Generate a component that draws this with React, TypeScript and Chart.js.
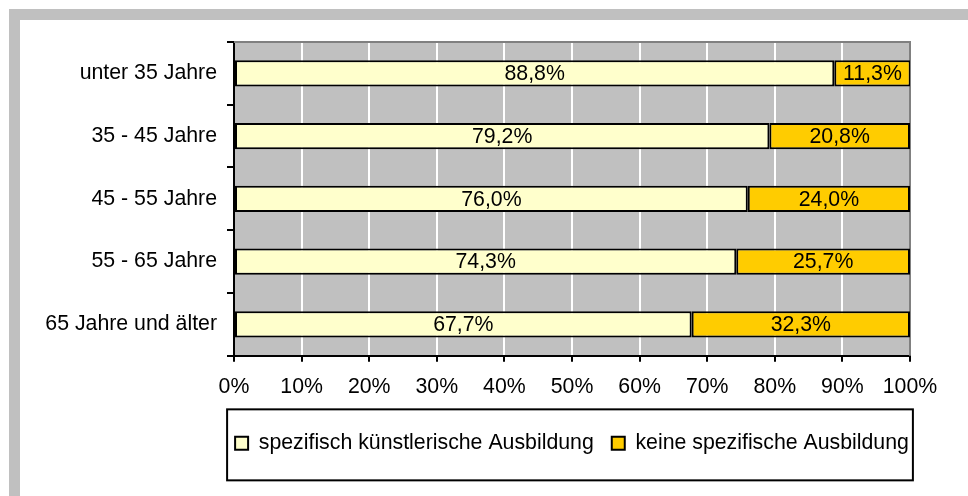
import React, { useEffect, useRef } from "react";
import { Chart, registerables } from "chart.js";

Chart.register(...registerables);

const categories = [
  "unter 35 Jahre",
  "35 - 45 Jahre",
  "45 - 55 Jahre",
  "55 - 65 Jahre",
  "65 Jahre und älter",
];
const spezifisch = [88.8, 79.2, 76.0, 74.3, 67.7];
const keine = [11.3, 20.8, 24.0, 25.7, 32.3];
const seriesNames = ["spezifisch künstlerische Ausbildung", "keine spezifische Ausbildung"];
const xTicks = [0, 10, 20, 30, 40, 50, 60, 70, 80, 90, 100];

const FONT = "'Liberation Sans', Arial, sans-serif";
const FS = 21.3;

const fmt = (v: number) => v.toFixed(1).replace(".", ",") + "%";

const decorPlugin = {
  id: "decor",
  afterInit(chart: any) {
    const lg = chart.legend;
    if (lg && !lg.__patched) {
      const origFit = lg.fit.bind(lg);
      lg.fit = function () {
        const mw = this.maxWidth;
        this.maxWidth = mw + 200;
        origFit();
        this.maxWidth = mw;
        this.width = mw;
      };
      const origDraw = lg.draw.bind(lg);
      lg.draw = function () {
        const l = this.left;
        const r = this.right;
        this.left = l - 100;
        this.right = r + 100;
        origDraw();
        this.left = l;
        this.right = r;
      };
      lg.__patched = true;
    }
  },
  beforeDraw(chart: any) {
    const { ctx, chartArea: a } = chart;
    ctx.save();
    ctx.fillStyle = "#c0c0c0";
    ctx.fillRect(a.left, a.top, a.right - a.left, a.bottom - a.top);
    ctx.restore();
  },
  beforeDatasetsDraw(chart: any) {
    const { ctx, chartArea: a } = chart;
    ctx.save();
    ctx.strokeStyle = "#808080";
    ctx.lineWidth = 2;
    ctx.beginPath();
    ctx.moveTo(a.left, a.top);
    ctx.lineTo(a.right, a.top);
    ctx.lineTo(a.right, a.bottom);
    ctx.stroke();
    ctx.restore();
  },
  afterDatasetsDraw(chart: any) {
    const { ctx } = chart;
    ctx.save();
    ctx.font = `${FS}px ${FONT}`;
    ctx.fillStyle = "#000";
    ctx.textAlign = "center";
    ctx.textBaseline = "middle";
    chart.data.datasets.forEach((ds: any, di: number) => {
      const meta = chart.getDatasetMeta(di);
      meta.data.forEach((el: any, i: number) => {
        const p = el.getProps(["x", "y", "base"], true);
        ctx.fillText(fmt(ds.data[i]), (p.x + p.base) / 2, p.y + 1);
      });
    });
    ctx.restore();
  },
  afterDraw(chart: any) {
    const lg = chart.legend;
    if (!lg || !lg.legendHitBoxes || !lg.legendHitBoxes.length) return;
    const hb = lg.legendHitBoxes;
    const first = hb[0];
    const last = hb[hb.length - 1];
    const left = first.left - 8;
    const right = last.left + last.width + 4;
    const cy = first.top + first.height / 2;
    const { ctx } = chart;
    ctx.save();
    ctx.strokeStyle = "#000";
    ctx.lineWidth = 2;
    ctx.strokeRect(left, cy - 34, right - left, 71);
    ctx.restore();
  },
};

export default function App() {
  const ref = useRef<HTMLCanvasElement>(null);
  useEffect(() => {
    if (!ref.current) return;
    Chart.defaults.font.family = FONT;
    Chart.defaults.font.size = FS;
    Chart.defaults.color = "#000";
    const chart = new Chart(ref.current, {
      type: "bar",
      data: {
        labels: categories,
        datasets: [
          {
            label: seriesNames[0],
            data: spezifisch,
            backgroundColor: "#ffffcc",
            borderColor: "#000",
            borderWidth: 2,
            borderSkipped: false,
            categoryPercentage: 1,
            barPercentage: 0.42,
          },
          {
            label: seriesNames[1],
            data: keine,
            backgroundColor: "#ffcc00",
            borderColor: "#000",
            borderWidth: 2,
            borderSkipped: false,
            categoryPercentage: 1,
            barPercentage: 0.42,
          },
        ],
      },
      options: {
        indexAxis: "y",
        animation: false,
        responsive: false,
        layout: { padding: { top: 22, right: 58, bottom: 32, left: 0 } },
        scales: {
          x: {
            stacked: true,
            min: 0,
            max: 100,
            afterBuildTicks(scale: any) {
              scale.ticks = xTicks.map((v) => ({ value: v }));
            },
            ticks: {
              callback: (v: any) => v + "%",
              padding: 13,
              maxRotation: 0,
              font: { size: FS, family: FONT },
              color: "#000",
            },
            grid: {
              color: "#ffffff",
              lineWidth: 2,
              tickColor: "#000",
              tickLength: 6,
              tickWidth: 2,
            },
            border: { display: true, color: "#000", width: 2 },
            afterFit(scale: any) {
              scale.height = 59;
            },
          },
          y: {
            stacked: true,
            ticks: {
              padding: 10,
              font: { size: FS, family: FONT },
              color: "#000",
            },
            grid: {
              offset: true,
              drawOnChartArea: false,
              drawTicks: true,
              tickLength: 7,
              color: "#000",
              tickColor: "#000",
              lineWidth: 2,
            },
            border: { display: true, color: "#000", width: 2 },
            afterFit(scale: any) {
              scale.width = 214;
              scale.paddingTop = 0;
              scale.paddingBottom = 0;
            },
          },
        },
        plugins: {
          legend: {
            position: "bottom",
            fullSize: false,
            labels: {
              boxWidth: 13,
              boxHeight: 13,
              padding: 18,
              font: { size: FS, family: FONT },
              color: "#000",
              generateLabels: (chart: any) =>
                chart.data.datasets.map((ds: any, i: number) => ({
                  text: ds.label,
                  fillStyle: ds.backgroundColor,
                  strokeStyle: "#000",
                  lineWidth: 2,
                  hidden: false,
                  datasetIndex: i,
                })),
            },
          },
          tooltip: { enabled: false },
        },
      },
      plugins: [decorPlugin],
    } as any);
    return () => chart.destroy();
  }, []);

  return (
    <div
      style={{
        position: "absolute",
        left: 9,
        top: 9,
        width: 948,
        height: 476,
        borderTop: "11px solid #c0c0c0",
        borderLeft: "11px solid #c0c0c0",
        background: "#fff",
      }}
    >
      <canvas ref={ref} width={948} height={476} style={{ display: "block" }} />
    </div>
  );
}
